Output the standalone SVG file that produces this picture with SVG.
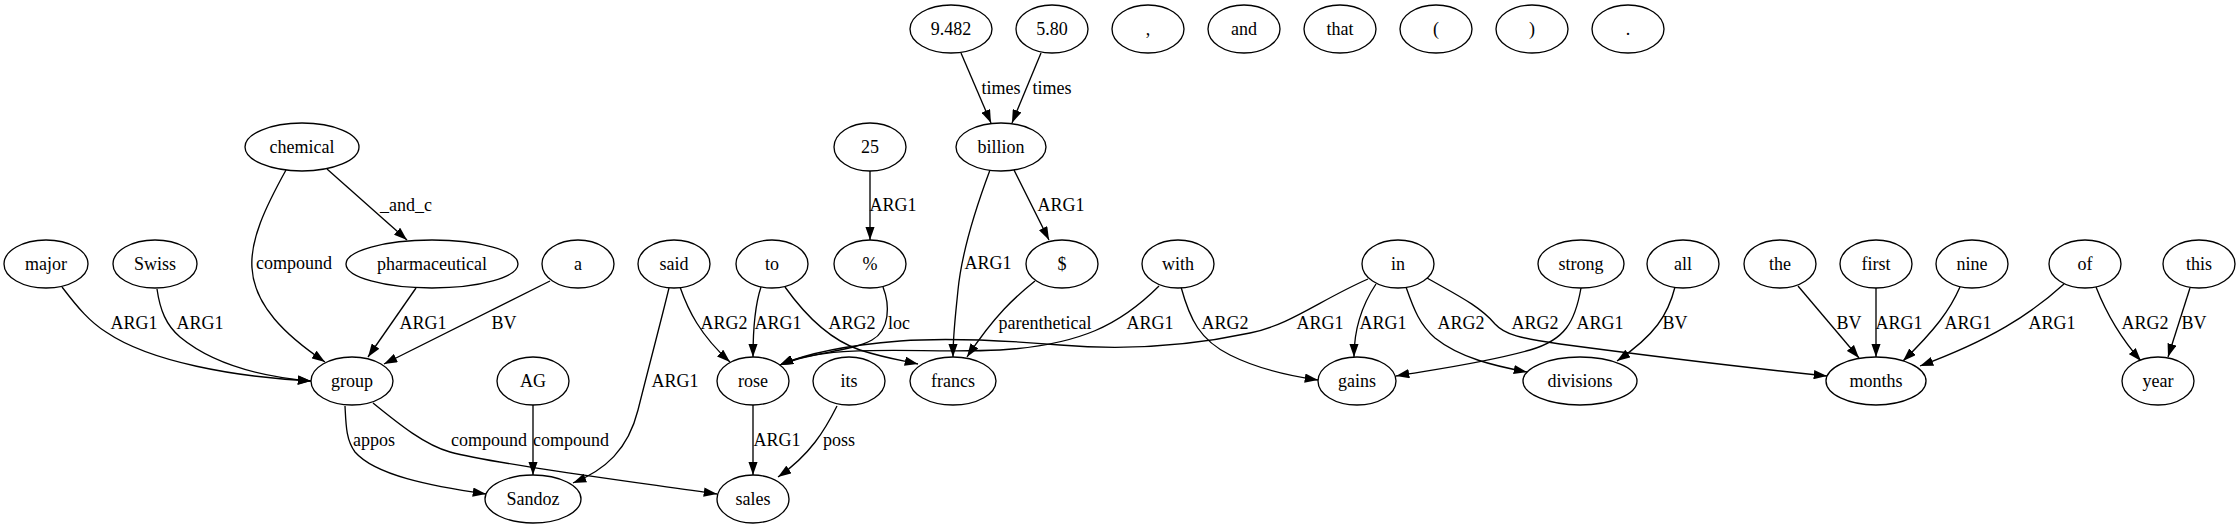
<svg xmlns="http://www.w3.org/2000/svg" width="2240" height="528" viewBox="0 0 2240 528">
<style>
.n ellipse{fill:#fff;stroke:#000;stroke-width:1.33}
text{font-size:18px;fill:#000;text-anchor:middle}
.e path{fill:none;stroke:#000;stroke-width:1.33;marker-end:url(#ah)}
</style>
<defs>
<marker id="ah" viewBox="0 0 10 7" refX="10" refY="3.5" markerWidth="13.3" markerHeight="9.3" markerUnits="userSpaceOnUse" orient="auto"><path d="M0,0 L10,3.5 L0,7 z" fill="#000"/></marker>
</defs>
<rect width="2240" height="528" fill="#fff"/>
<g id="connectors" class="e">
<path d="M62,287 C78,308 90,322 106,332 C150,362 235,377 311,381"/>
<path d="M157,289 C160,310 166,325 180,337 C215,366 265,377 311,381"/>
<path d="M286,170 C265,208 250,240 252,268 C254,305 285,335 325,362"/>
<path d="M327,169 L407,240"/>
<path d="M416,288 L368,357"/>
<path d="M550,281 L384,364"/>
<path d="M345,406 C346,425 346,440 355,452 C375,475 430,486 486,494"/>
<path d="M373,403 C400,425 425,445 450,452 C490,463 620,480 717,494"/>
<path d="M533,405 L533,475"/>
<path d="M669,288 C660,325 648,370 638,410 C628,450 605,470 573,483"/>
<path d="M680,287 C688,310 700,335 730,362"/>
<path d="M761,287 C755,305 753,330 753,357"/>
<path d="M785,287 C805,315 830,340 860,350 C885,358 900,360 918,364"/>
<path d="M883,287 C890,305 890,330 872,340 C850,352 810,352 780,365"/>
<path d="M870,171 L870,240"/>
<path d="M961,53 L991,123"/>
<path d="M1041,53 L1012,123"/>
<path d="M990,170 C975,210 962,250 958,290 C955,320 953,335 953,357"/>
<path d="M1014,170 L1049,240"/>
<path d="M1035,281 C1015,297 995,315 967,357"/>
<path d="M1159,286 C1120,325 1080,345 1000,350 C920,354 830,342 780,365"/>
<path d="M1368,279 C1320,300 1290,325 1250,333 C1180,348 1120,350 1060,345 C1000,340 940,338 900,341 C850,345 810,352 780,365"/>
<path d="M1181,287 C1190,320 1200,340 1230,355 C1260,370 1290,376 1318,380"/>
<path d="M1376,284 C1362,305 1354,330 1354,357"/>
<path d="M1406,287 C1414,310 1420,325 1435,338 C1460,358 1495,366 1527,372"/>
<path d="M1427,278 C1455,294 1480,306 1495,324 C1505,335 1520,338 1560,344 C1650,356 1750,368 1827,376"/>
<path d="M1581,288 C1575,322 1565,340 1530,350 C1480,364 1430,370 1396,376"/>
<path d="M1675,287 C1668,315 1655,335 1617,361"/>
<path d="M1798,286 L1859,358"/>
<path d="M1876,288 L1876,357"/>
<path d="M1960,287 C1950,310 1935,330 1903,361"/>
<path d="M2064,284 C2030,315 1990,340 1920,366"/>
<path d="M2096,287 C2105,310 2118,335 2141,361"/>
<path d="M2190,288 L2168,357"/>
<path d="M753,405 L753,475"/>
<path d="M837,406 C825,430 810,455 778,477"/>
</g>
<g id="edge-labels" font-family="Liberation Serif, DejaVu Serif, serif">
<text x="134" y="329">ARG1</text>
<text x="200" y="329">ARG1</text>
<text x="294" y="269">compound</text>
<text x="406" y="211">_and_c</text>
<text x="423" y="329">ARG1</text>
<text x="504" y="329">BV</text>
<text x="374" y="446">appos</text>
<text x="489" y="446">compound</text>
<text x="571" y="446">compound</text>
<text x="675" y="387">ARG1</text>
<text x="724" y="329">ARG2</text>
<text x="778" y="329">ARG1</text>
<text x="852" y="329">ARG2</text>
<text x="899" y="329">loc</text>
<text x="893" y="211">ARG1</text>
<text x="1001" y="94">times</text>
<text x="1052" y="94">times</text>
<text x="988" y="269">ARG1</text>
<text x="1061" y="211">ARG1</text>
<text x="1045" y="329">parenthetical</text>
<text x="1150" y="329">ARG1</text>
<text x="1320" y="329">ARG1</text>
<text x="1225" y="329">ARG2</text>
<text x="1383" y="329">ARG1</text>
<text x="1461" y="329">ARG2</text>
<text x="1535" y="329">ARG2</text>
<text x="1600" y="329">ARG1</text>
<text x="1675" y="329">BV</text>
<text x="1849" y="329">BV</text>
<text x="1899" y="329">ARG1</text>
<text x="1968" y="329">ARG1</text>
<text x="2052" y="329">ARG1</text>
<text x="2145" y="329">ARG2</text>
<text x="2194" y="329">BV</text>
<text x="777" y="446">ARG1</text>
<text x="839" y="446">poss</text>
</g>
<g id="nodes" font-family="Liberation Serif, DejaVu Serif, serif">
<g id="n-9482" class="n"><ellipse cx="951" cy="29" rx="41" ry="24"/><text x="951" y="35">9.482</text></g>
<g id="n-580" class="n"><ellipse cx="1052" cy="29" rx="36" ry="24"/><text x="1052" y="35">5.80</text></g>
<g id="n-comma" class="n"><ellipse cx="1148" cy="29" rx="36" ry="24"/><text x="1148" y="35">,</text></g>
<g id="n-and" class="n"><ellipse cx="1244" cy="29" rx="36" ry="24"/><text x="1244" y="35">and</text></g>
<g id="n-that" class="n"><ellipse cx="1340" cy="29" rx="36" ry="24"/><text x="1340" y="35">that</text></g>
<g id="n-lparen" class="n"><ellipse cx="1436" cy="29" rx="36" ry="24"/><text x="1436" y="35">(</text></g>
<g id="n-rparen" class="n"><ellipse cx="1532" cy="29" rx="36" ry="24"/><text x="1532" y="35">)</text></g>
<g id="n-period" class="n"><ellipse cx="1628" cy="29" rx="36" ry="24"/><text x="1628" y="35">.</text></g>
<g id="n-chemical" class="n"><ellipse cx="302" cy="147" rx="57" ry="24"/><text x="302" y="153">chemical</text></g>
<g id="n-25" class="n"><ellipse cx="870" cy="147" rx="36" ry="24"/><text x="870" y="153">25</text></g>
<g id="n-billion" class="n"><ellipse cx="1001" cy="147" rx="45" ry="24"/><text x="1001" y="153">billion</text></g>
<g id="n-major" class="n"><ellipse cx="46" cy="264" rx="42" ry="24"/><text x="46" y="270">major</text></g>
<g id="n-swiss" class="n"><ellipse cx="155" cy="264" rx="42" ry="24"/><text x="155" y="270">Swiss</text></g>
<g id="n-pharmaceutical" class="n"><ellipse cx="432" cy="264" rx="86" ry="24"/><text x="432" y="270">pharmaceutical</text></g>
<g id="n-a" class="n"><ellipse cx="578" cy="264" rx="36" ry="24"/><text x="578" y="270">a</text></g>
<g id="n-said" class="n"><ellipse cx="674" cy="264" rx="36" ry="24"/><text x="674" y="270">said</text></g>
<g id="n-to" class="n"><ellipse cx="772" cy="264" rx="36" ry="24"/><text x="772" y="270">to</text></g>
<g id="n-percent" class="n"><ellipse cx="870" cy="264" rx="36" ry="24"/><text x="870" y="270">%</text></g>
<g id="n-dollar" class="n"><ellipse cx="1062" cy="264" rx="36" ry="24"/><text x="1062" y="270">$</text></g>
<g id="n-with" class="n"><ellipse cx="1178" cy="264" rx="36" ry="24"/><text x="1178" y="270">with</text></g>
<g id="n-in" class="n"><ellipse cx="1398" cy="264" rx="36" ry="24"/><text x="1398" y="270">in</text></g>
<g id="n-strong" class="n"><ellipse cx="1581" cy="264" rx="43" ry="24"/><text x="1581" y="270">strong</text></g>
<g id="n-all" class="n"><ellipse cx="1683" cy="264" rx="36" ry="24"/><text x="1683" y="270">all</text></g>
<g id="n-the" class="n"><ellipse cx="1780" cy="264" rx="36" ry="24"/><text x="1780" y="270">the</text></g>
<g id="n-first" class="n"><ellipse cx="1876" cy="264" rx="36" ry="24"/><text x="1876" y="270">first</text></g>
<g id="n-nine" class="n"><ellipse cx="1972" cy="264" rx="36" ry="24"/><text x="1972" y="270">nine</text></g>
<g id="n-of" class="n"><ellipse cx="2085" cy="264" rx="36" ry="24"/><text x="2085" y="270">of</text></g>
<g id="n-this" class="n"><ellipse cx="2199" cy="264" rx="36" ry="24"/><text x="2199" y="270">this</text></g>
<g id="n-group" class="n"><ellipse cx="352" cy="381" rx="41" ry="24"/><text x="352" y="387">group</text></g>
<g id="n-ag" class="n"><ellipse cx="533" cy="381" rx="36" ry="24"/><text x="533" y="387">AG</text></g>
<g id="n-rose" class="n"><ellipse cx="753" cy="381" rx="36" ry="24"/><text x="753" y="387">rose</text></g>
<g id="n-its" class="n"><ellipse cx="849" cy="381" rx="36" ry="24"/><text x="849" y="387">its</text></g>
<g id="n-francs" class="n"><ellipse cx="953" cy="381" rx="43" ry="24"/><text x="953" y="387">francs</text></g>
<g id="n-gains" class="n"><ellipse cx="1357" cy="381" rx="39" ry="24"/><text x="1357" y="387">gains</text></g>
<g id="n-divisions" class="n"><ellipse cx="1580" cy="381" rx="57" ry="24"/><text x="1580" y="387">divisions</text></g>
<g id="n-months" class="n"><ellipse cx="1876" cy="381" rx="50" ry="24"/><text x="1876" y="387">months</text></g>
<g id="n-year" class="n"><ellipse cx="2158" cy="381" rx="36" ry="24"/><text x="2158" y="387">year</text></g>
<g id="n-sandoz" class="n"><ellipse cx="533" cy="499" rx="48" ry="24"/><text x="533" y="505">Sandoz</text></g>
<g id="n-sales" class="n"><ellipse cx="753" cy="499" rx="36" ry="24"/><text x="753" y="505">sales</text></g>
</g>
</svg>
